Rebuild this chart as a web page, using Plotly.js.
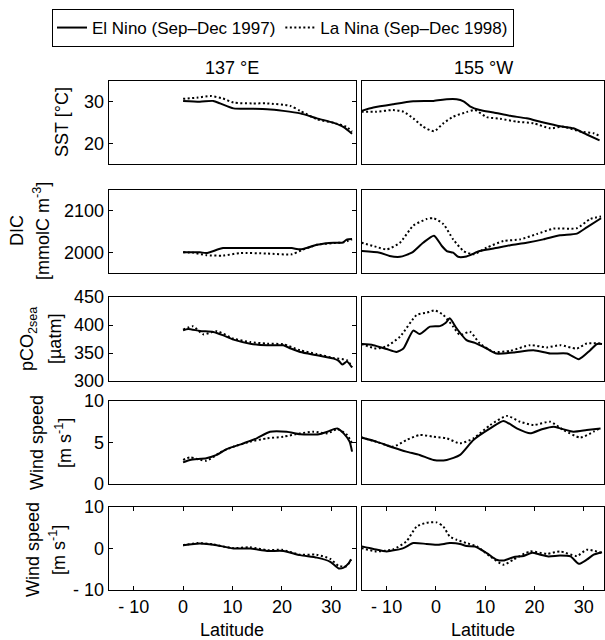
<!DOCTYPE html>
<html>
<head>
<meta charset="utf-8">
<script src="https://cdn.plot.ly/plotly-3.0.1.min.js"></script>
<style>html,body{margin:0;padding:0;background:#fff;}#chart{width:605px;height:640px;}</style>
</head>
<body>
<div id="chart"></div>
<script>
// ---------- DATA ----------
const seriesNames = ["El Nino (Sep\u2013Dec 1997)", "La Nina (Sep\u2013Dec 1998)"];
const columnTitles = ["137 \u00b0E", "155 \u00b0W"];

// 137E : SST
const sstE_ninoLat = [0,3.4,6.1,7.5,10.2,13.6,17,20.3,23.7,27.1,30.5,32.5,34.2];
const sstE_nino    = [30.2,30.0,30.2,29.6,28.4,28.3,28.2,27.8,27.2,26.0,24.9,23.9,22.3];
const sstE_ninaLat = [0,3,5.5,8,10.2,14,17,21.7,23.7,27.1,30.5,33,34.2];
const sstE_nina    = [30.7,31.0,31.4,30.8,29.8,29.6,29.6,29.0,27.8,25.8,24.9,24.0,22.8];
// 155W : SST
const sstW_ninoLat = [-15.1,-12.7,-8.7,-4.6,-0.5,2.2,4.2,5.6,6.9,8.9,11.7,15.1,18.4,21.8,25.2,27.9,30.6,33.2];
const sstW_nino    = [27.8,28.6,29.4,30.1,30.2,30.6,30.6,30.1,28.9,28.0,27.4,26.6,26.0,25.0,24.1,23.6,22.1,20.7];
const sstW_ninaLat = [-15.1,-12.1,-8.7,-6.6,-4.6,-2.6,-0.4,1.5,3.5,6.2,7.9,10.3,13.0,16.4,19.8,23.2,25.9,29.3,32.0,33.2];
const sstW_nina    = [27.6,27.6,28.0,27.6,26.0,24.0,22.9,24.8,26.4,27.5,28.0,26.3,25.9,25.2,24.8,23.6,24.0,22.8,22.4,21.8];

// 137E : DIC
const dicE_ninoLat = [0,3.4,4.7,8.1,12,16,20,22,23.7,25.5,27.1,30.5,32.2,33.2,34.2];
const dicE_nino    = [2000,2000,1998,2010,2010,2010,2010,2010,2007,2012,2018,2023,2023,2031,2032];
const dicE_ninaLat = [0,2,4.7,8.1,11.5,17,22,24,27.1,30.5,32.5,34.2];
const dicE_nina    = [2000,1999,1993,1992,1998,1997,1995,2005,2018,2022,2024,2031];
// 155W : DIC
const dicW_ninoLat = [-15.1,-11.4,-9.4,-7.3,-4.9,-2.6,-0.4,1.2,2.2,3.5,4.5,6.2,8.9,11.7,15.1,18.4,21.8,25.2,28.6,30.6,33.5];
const dicW_nino    = [2003,1999,1991,1989,1999,2023,2040,2015,2003,1999,1989,1990,2003,2009,2017,2023,2031,2041,2045,2060,2082];
const dicW_ninaLat = [-15.1,-12.1,-10,-7.3,-4.6,-1.9,-0.5,1.5,3.5,5.6,7.6,10.3,13.7,17.1,20.5,23.9,28.6,31.3,33.5];
const dicW_nina    = [2023,2013,2007,2023,2064,2080,2082,2068,2031,2003,1995,2011,2027,2031,2044,2057,2058,2080,2086];

// 137E : pCO2sea
const pco2E_ninoLat = [0,1,3.4,6.1,8,10.2,13.6,17,20.3,21.8,23.7,27.1,30.5,31.5,32.2,33.2,34.2];
const pco2E_nino    = [390.5,393,389.3,387.5,382,373.8,366.7,363.7,363.7,358,351.8,346,340,336,329.3,334.6,324];
const pco2E_ninaLat = [0,2,4.1,6.8,10.2,13.6,17,20.3,23.7,27.1,30.5,33.2,34.2];
const pco2E_nina    = [391.7,397.6,383.3,389,375.6,369.6,366.7,365.5,354.8,348,341,337,325];
// 155W : pCO2sea
const pco2W_ninoLat = [-15.1,-12.7,-10,-8,-6.6,-4.6,-3.3,-1.2,0.8,2,2.8,4.2,6.2,7.9,10.3,12.3,15.7,19.8,23.2,26.6,29,31.3,32.7,33.7];
const pco2W_nino    = [366,364,357,352,358,390,384,397,398,404,412,394,373,368,358,349,351,355,349,349,339,355,366,366];
const pco2W_ninaLat = [-15.1,-12.1,-10,-7.3,-3.9,-1.9,-0.2,1.5,3.5,4.9,6.9,8.9,11.7,15.1,19.1,22.5,25.2,28.6,30.6,33.7];
const pco2W_nina    = [366,358,362,379,418,422,426,418,397,382,388,367,352,354,364,360,364,358,367,367];

// 137E : wind speed
const windE_ninoLat = [0,1.4,4.7,6.8,8.8,12.2,14.9,17.6,21,23.7,27.5,29.2,31.2,32.5,33.7,34.2];
const windE_nino    = [2.6,2.9,3.1,3.5,4.2,4.9,5.5,6.3,6.3,6.0,6.0,6.3,6.7,6.1,5.1,3.9];
const windE_ninaLat = [0,1.4,4.7,7.5,10.2,13.6,17,20.3,23.7,26.4,29.2,31.2,33.2,34.2];
const windE_nina    = [2.9,3.2,2.8,3.8,4.5,5.1,5.5,5.7,6.1,6.3,6.1,6.6,5.9,4.9];
// 155W : wind speed
const windW_ninoLat = [-15.1,-12.1,-8.7,-6.0,-3.3,-0.5,2.2,4.9,7.6,11,13.7,16.4,19.1,21.5,23.9,25.2,27.9,30.6,33.4];
const windW_nino    = [5.6,5.1,4.4,3.9,3.5,2.9,2.9,3.5,5.3,6.7,7.6,6.7,6.1,6.6,6.9,6.7,6.3,6.5,6.7];
const windW_ninaLat = [-15.1,-12.1,-8.7,-6,-3.3,-0.5,2.2,4.9,7.6,11,14.4,17.1,19.8,23.2,25.9,29.3,32,33.5];
const windW_nina    = [5.6,5.1,4.5,5.3,5.9,5.7,5.5,4.9,5.5,7.1,8.2,7.5,7.1,7.5,6.5,5.6,6.3,6.8];

// 137E : bottom row (signed wind)
const vwindE_ninoLat = [0,3.4,6.8,10.2,13.6,17,20.3,23.7,27.1,29.8,31.5,32.5,33.5,34];
const vwindE_nino    = [0.8,1.2,0.8,0,0,-0.6,-0.6,-1.6,-2.2,-3.2,-4.8,-4.6,-3.6,-2.6];
const vwindE_ninaLat = [0,3,6,10,13.6,17,20,23.7,27,29.8,31.5,33,34];
const vwindE_nina    = [0.8,1.3,1.0,0.1,0.3,-0.4,-0.3,-1.5,-1.5,-2.5,-4.2,-4.3,-2.7];
// 155W : bottom row
const vwindW_ninoLat = [-15.1,-12.7,-10,-6.6,-4.6,-1.9,0.5,2.8,4.9,6.2,7.9,10.3,12.3,13.7,15.7,17.8,19.5,21.2,22.8,25.2,27.3,29,30.6,32,33.7];
const vwindW_nino    = [0.5,-0.1,-0.7,0.1,1.3,1.1,0.9,1.3,1.1,0.6,0.5,-1.1,-2.7,-2.9,-2.1,-1.8,-1.0,-1.5,-1.9,-1.7,-1.9,-3.7,-2.7,-1.5,-0.9];
const vwindW_ninaLat = [-15.1,-12.1,-8.7,-6,-3.9,-1.9,0.1,1.5,2.8,4.2,6.2,8.3,11,13.7,15.7,19.1,22.5,25.2,28.6,30.6,33.7];
const vwindW_nina    = [0.1,-0.7,-0.2,1.7,5.3,6.2,6.3,5.3,2.9,2.1,1.3,0.5,-1.9,-3.9,-2.7,-0.7,-1.3,-0.7,-1.8,-0.3,-1.1];

// axis ticks
const xTickVals = [-10,0,10,20,30];
const xTickText = ["- 10","0","10","20","30"];
const yTicks = [
  {vals:[20,30], text:["20","30"], range:[15,35]},
  {vals:[2000,2100], text:["2000","2100"], range:[1950,2150]},
  {vals:[300,350,400,450], text:["300","350","400","450"], range:[300,450]},
  {vals:[0,5,10], text:["0","5","10"], range:[0,10]},
  {vals:[-10,0,10], text:["- 10","0","10"], range:[-10,10]}
];
// row titles, one entry per text line
const rowTitleLines = [
  ["SST [\u00b0C]"],
  ["DIC", "[mmolC m<sup>-3</sup>]"],
  ["pCO<sub>2sea</sub>", "[\u00b5atm]"],
  ["Wind speed", "[m s<sup>-1</sup>]"],
  ["Wind speed", "[m s<sup>-1</sup>]"]
];

// ---------- BUILD ----------
const W = 605, H = 640;
const FONT = "Liberation Sans, Arial, Helvetica, sans-serif";
const colPx = [[109,356],[362,604]];
const rowPx = [[81,164],[190,273],[297,381],[401,484],[507,590]];
const xRanges = [[-15,35],[-15,34.1]];

const panels = [
  [[sstE_ninoLat,sstE_nino,sstE_ninaLat,sstE_nina],[sstW_ninoLat,sstW_nino,sstW_ninaLat,sstW_nina]],
  [[dicE_ninoLat,dicE_nino,dicE_ninaLat,dicE_nina],[dicW_ninoLat,dicW_nino,dicW_ninaLat,dicW_nina]],
  [[pco2E_ninoLat,pco2E_nino,pco2E_ninaLat,pco2E_nina],[pco2W_ninoLat,pco2W_nino,pco2W_ninaLat,pco2W_nina]],
  [[windE_ninoLat,windE_nino,windE_ninaLat,windE_nina],[windW_ninoLat,windW_nino,windW_ninaLat,windW_nina]],
  [[vwindE_ninoLat,vwindE_nino,vwindE_ninaLat,vwindE_nina],[vwindW_ninoLat,vwindW_nino,vwindW_ninaLat,vwindW_nina]]
];

const traces = [];
const layout = {
  width: W, height: H,
  margin: {l:0, r:0, t:0, b:0},
  paper_bgcolor: "#fff", plot_bgcolor: "#fff",
  font: {family: FONT, size: 18, color: "#000"},
  showlegend: true,
  legend: {
    orientation: "h", x: 52/W, y: 1 - 9/H, xanchor: "left", yanchor: "top",
    bordercolor: "#000", borderwidth: 1, bgcolor: "#fff",
    font: {family: FONT, size: 17, color: "#000"},
    itemwidth: 30, tracegroupgap: 0
  },
  annotations: [],
  shapes: []
};

for (let r = 0; r < 5; r++) {
  for (let c = 0; c < 2; c++) {
    const i = r*2 + c + 1;
    const xa = "x" + (i === 1 ? "" : i), ya = "y" + (i === 1 ? "" : i);
    const xk = "xaxis" + (i === 1 ? "" : i), yk = "yaxis" + (i === 1 ? "" : i);
    const d = panels[r][c];
    const bottom = (r === 4);
    layout[xk] = {
      domain: [colPx[c][0]/W, colPx[c][1]/W], range: xRanges[c], anchor: ya,
      showline: true, linecolor: "#000", linewidth: 1.3, mirror: bottom ? "ticks" : true,
      showgrid: false, zeroline: false,
      ticks: bottom ? "inside" : "", ticklen: 4, tickwidth: 1, tickcolor: "#000",
      tickvals: xTickVals, ticktext: xTickText, showticklabels: bottom,
      tickfont: {family: FONT, size: 18, color: "#000"}
    };
    layout[yk] = {
      domain: [1 - rowPx[r][1]/H, 1 - rowPx[r][0]/H], range: yTicks[r].range, anchor: xa,
      showline: true, linecolor: "#000", linewidth: 1.3, mirror: c === 0 ? "ticks" : true,
      showgrid: false, zeroline: false,
      ticks: c === 0 ? "inside" : "", ticklen: 4, tickwidth: 1, tickcolor: "#000",
      tickvals: yTicks[r].vals, ticktext: yTicks[r].text, showticklabels: c === 0,
      tickfont: {family: FONT, size: 18, color: "#000"}
    };
    traces.push({
      x: d[0], y: d[1], xaxis: xa, yaxis: ya, type: "scatter", mode: "lines",
      line: {color: "#000", width: 2, shape: "spline", smoothing: 0.6},
      name: seriesNames[0], showlegend: (i === 1), legendgroup: "nino"
    });
    traces.push({
      x: d[2], y: d[3], xaxis: xa, yaxis: ya, type: "scatter", mode: "lines",
      line: {color: "#000", width: 2, dash: "2px,2.5px", shape: "spline", smoothing: 0.6},
      name: seriesNames[1], showlegend: (i === 1), legendgroup: "nina"
    });
  }
}

function ann(text, xpx, ypx, angle) {
  const a = {text: text, xref: "paper", yref: "paper", x: xpx/W, y: 1 - ypx/H,
    xanchor: "center", yanchor: "middle", showarrow: false,
    font: {family: FONT, size: 18, color: "#000"}};
  if (angle) a.textangle = angle;
  layout.annotations.push(a);
}

// column titles
ann(columnTitles[0], 232, 68);
ann(columnTitles[1], 483, 68);

// row titles (each text line its own annotation)
const rowTitleX = [[62], [17, 41], [28, 55], [37, 63], [33, 57]];
const rowTitleY = [122, 231, 339, 443, 550];
for (let r = 0; r < 5; r++) {
  rowTitleLines[r].forEach((t, k) => ann(t, rowTitleX[r][k], rowTitleY[r], -90));
}
// x titles
ann("Latitude", 232, 630);
ann("Latitude", 483, 630);

Plotly.newPlot("chart", traces, layout, {staticPlot: true, displayModeBar: false});
</script>
</body>
</html>
